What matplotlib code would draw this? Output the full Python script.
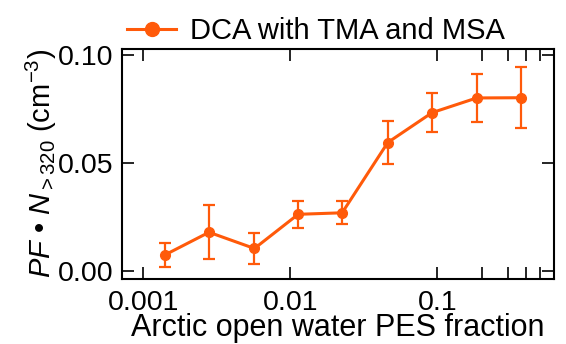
import matplotlib
matplotlib.use("Agg")
import matplotlib.pyplot as plt
from matplotlib.lines import Line2D
from matplotlib.ticker import FixedLocator, NullFormatter, FixedFormatter

plt.rcParams['font.family'] = ['Liberation Sans', 'DejaVu Sans']
plt.rcParams['mathtext.fontset'] = 'custom'
plt.rcParams['mathtext.rm'] = 'Liberation Sans'
plt.rcParams['mathtext.it'] = 'Liberation Sans:italic'
plt.rcParams['mathtext.bf'] = 'Liberation Sans:bold'

# data
pes_fraction = [0.0014, 0.0028, 0.0057, 0.0113, 0.0225, 0.046, 0.092, 0.185, 0.37]
pf_n320 = [0.0074, 0.0179, 0.0104, 0.0262, 0.0269, 0.0594, 0.0732, 0.0800, 0.0801]
err = [0.0055, 0.0125, 0.0073, 0.0062, 0.0053, 0.0100, 0.0090, 0.0110, 0.0140]
series_label = "DCA with TMA and MSA"
xtick_vals = [0.001, 0.01, 0.1]
xtick_labels = ["0.001", "0.01", "0.1"]
xminor_vals = [0.2, 0.3, 0.4, 0.5]
ytick_vals = [0.0, 0.05, 0.10]
ytick_labels = ["0.00", "0.05", "0.10"]

color = '#FF5A0A'

fig = plt.figure(figsize=(5.66, 3.44), dpi=100)
ax = fig.add_axes([0.215, 0.189, 0.764, 0.669])

ax.errorbar(pes_fraction, pf_n320, yerr=err, color=color, lw=2.2,
            marker='o', ms=7, elinewidth=1.6, capsize=4.5, capthick=1.6)

ax.set_xscale('log')
ax.set_xlim(0.000713, 0.622)
ax.set_ylim(-0.0037, 0.1027)

ax.xaxis.set_major_locator(FixedLocator(xtick_vals))
ax.xaxis.set_major_formatter(FixedFormatter(xtick_labels))
ax.xaxis.set_minor_locator(FixedLocator(xminor_vals))
ax.xaxis.set_minor_formatter(NullFormatter())
ax.yaxis.set_major_locator(FixedLocator(ytick_vals))
ax.yaxis.set_major_formatter(FixedFormatter(ytick_labels))
ax.yaxis.set_minor_locator(FixedLocator([]))

ax.tick_params(which='both', direction='in', top=True, right=True,
               length=8.5, width=1.2, labelsize=20.5)
ax.tick_params(axis='x', pad=8)
ax.tick_params(axis='y', pad=6)

for s in ax.spines.values():
    s.set_linewidth(1.5)

ax.set_xlabel("Arctic open water PES fraction", fontsize=22, labelpad=-2)
ax.set_ylabel(r"$PF$ • $N_{>320}$ (cm$^{-3}$)", fontsize=21, labelpad=-1)

handle = Line2D([], [], color=color, lw=2.2, marker='o', ms=10)
ax.legend(handles=[handle], labels=[series_label], loc='lower left',
          bbox_to_anchor=(-0.015, 0.965), frameon=False,
          fontsize=21, handlelength=1.7, handletextpad=0.45, borderaxespad=0)

fig.savefig("out.png", dpi=100)
